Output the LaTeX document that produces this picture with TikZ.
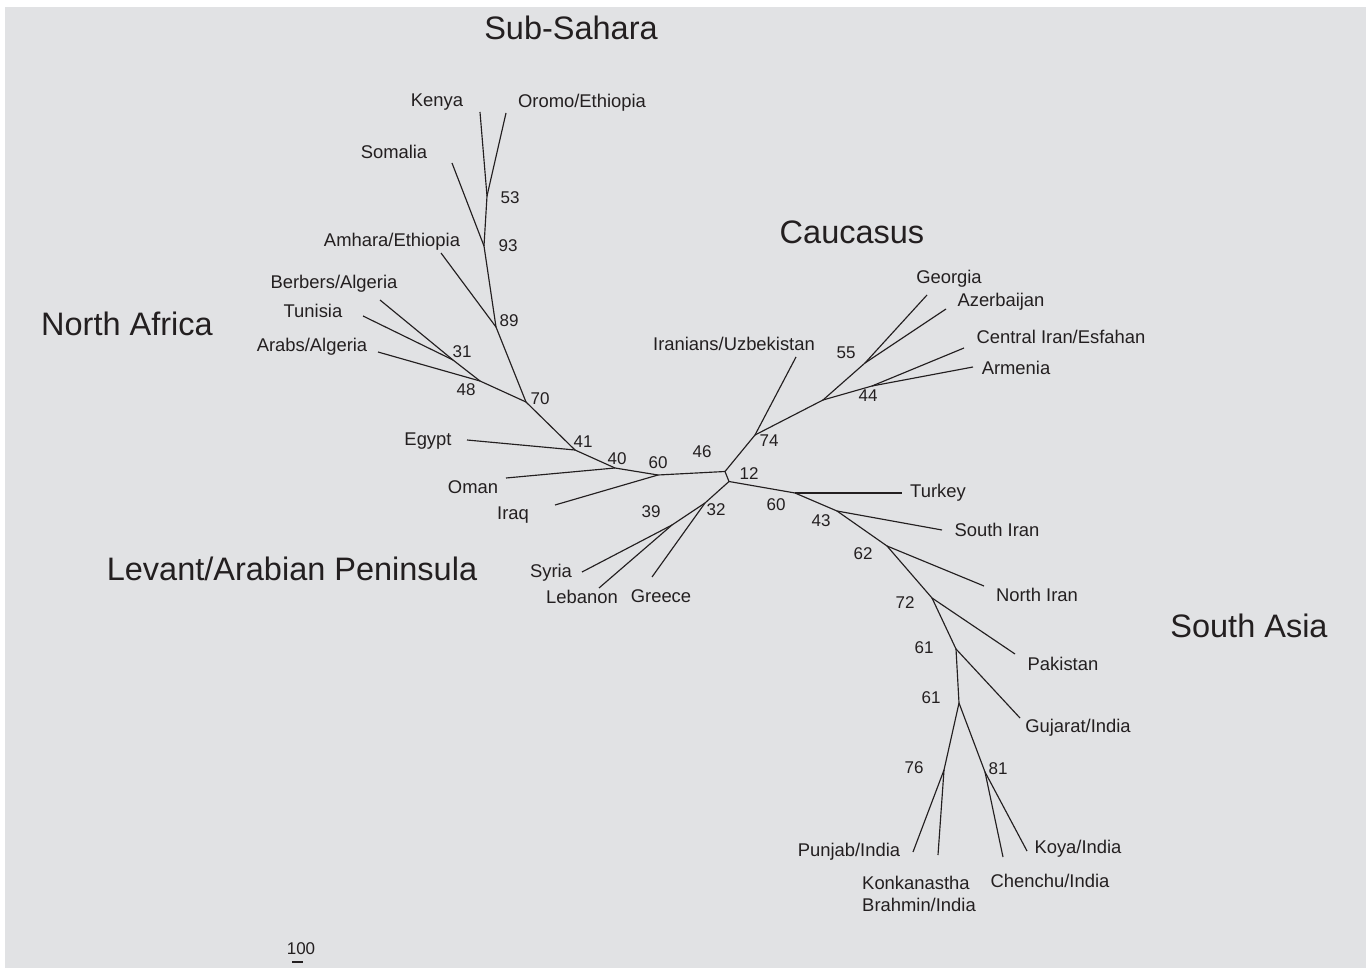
\documentclass[tikz,border=0pt]{standalone}
\usepackage{fontspec}
\setmainfont{Liberation Sans}
\definecolor{bg}{HTML}{E1E2E4}
\definecolor{ink}{HTML}{231F20}
\begin{document}
\begin{tikzpicture}[x=1pt,y=-1pt,
  br/.style={draw=ink,line width=1.15pt},
  lab/.style={text=ink,inner sep=0pt,font=\fontsize{18.4}{22}\selectfont},
  num/.style={text=ink,inner sep=0pt,font=\fontsize{17}{19}\selectfont},
  ttl/.style={text=ink,inner sep=0pt,font=\fontsize{32.5}{35}\selectfont}]
\useasboundingbox (0,0) rectangle (1369,968);
\fill[bg] (5,7) rectangle (1366,968);
% internal nodes
\coordinate (n53) at (487,196);
\coordinate (n93) at (484,246);
\coordinate (n89) at (496,327);
\coordinate (n31) at (453,360);
\coordinate (n48) at (480,381);
\coordinate (n70) at (526,402);
\coordinate (n41) at (575,450);
\coordinate (n40) at (615,468);
\coordinate (n60a) at (658,475);
\coordinate (cA) at (725,471.5);
\coordinate (cB) at (729,481.5);
\coordinate (n74) at (755,435);
\coordinate (nC) at (823,400);
\coordinate (n55) at (865,363);
\coordinate (n44) at (872,386);
\coordinate (n32) at (705,503);
\coordinate (n39) at (672,525);
\coordinate (n60b) at (795,493);
\coordinate (n43) at (837,511);
\coordinate (n62) at (887,546);
\coordinate (n72) at (932,598);
\coordinate (n61a) at (956,649);
\coordinate (n61b) at (959,703);
\coordinate (n76) at (944,770);
\coordinate (n81) at (985,772);
% tips
\coordinate (tKen) at (480,112);
\coordinate (tOro) at (506,113);
\coordinate (tSom) at (452,163);
\coordinate (tAmh) at (441,253);
\coordinate (tBer) at (380,300);
\coordinate (tTun) at (363,316);
\coordinate (tAra) at (378,352);
\coordinate (tEgy) at (467,440);
\coordinate (tOma) at (506,478);
\coordinate (tIrq) at (555,505);
\coordinate (tSyr) at (582,572);
\coordinate (tLeb) at (599,588);
\coordinate (tGre) at (652,577);
\coordinate (tUzb) at (796,357);
\coordinate (tGeo) at (927,295);
\coordinate (tAze) at (946,309);
\coordinate (tCIr) at (964,348);
\coordinate (tArm) at (973,367);
\coordinate (tTur) at (902,493);
\coordinate (tSIr) at (942,530);
\coordinate (tNIr) at (984,586);
\coordinate (tPak) at (1015,654);
\coordinate (tGuj) at (1020,718);
\coordinate (tPun) at (913,852);
\coordinate (tKon) at (938,855);
\coordinate (tChe) at (1003,857);
\coordinate (tKoy) at (1027,851);
% branches
\draw[br] (n53) -- (tKen);
\draw[br] (n53) -- (tOro);
\draw[br] (n93) -- (n53);
\draw[br] (n93) -- (tSom);
\draw[br] (n89) -- (n93);
\draw[br] (n89) -- (tAmh);
\draw[br] (n70) -- (n89);
\draw[br] (n31) -- (tBer);
\draw[br] (n31) -- (tTun);
\draw[br] (n48) -- (n31);
\draw[br] (n48) -- (tAra);
\draw[br] (n70) -- (n48);
\draw[br] (n41) -- (n70);
\draw[br] (n41) -- (tEgy);
\draw[br] (n40) -- (n41);
\draw[br] (n40) -- (tOma);
\draw[br] (n60a) -- (n40);
\draw[br] (n60a) -- (tIrq);
\draw[br] (cA) -- (n60a);
\draw[br] (cA) -- (cB);
\draw[br] (cA) -- (n74);
\draw[br] (n74) -- (tUzb);
\draw[br] (n74) -- (nC);
\draw[br] (nC) -- (n55);
\draw[br] (n55) -- (tGeo);
\draw[br] (n55) -- (tAze);
\draw[br] (nC) -- (n44);
\draw[br] (n44) -- (tCIr);
\draw[br] (n44) -- (tArm);
\draw[br] (cB) -- (n32);
\draw[br] (n32) -- (tGre);
\draw[br] (n32) -- (n39);
\draw[br] (n39) -- (tSyr);
\draw[br] (n39) -- (tLeb);
\draw[br] (cB) -- (n60b);
\draw[br] (n60b) -- (tTur);
\draw[br] (n60b) -- (n43);
\draw[br] (n43) -- (tSIr);
\draw[br] (n43) -- (n62);
\draw[br] (n62) -- (tNIr);
\draw[br] (n62) -- (n72);
\draw[br] (n72) -- (tPak);
\draw[br] (n72) -- (n61a);
\draw[br] (n61a) -- (tGuj);
\draw[br] (n61a) -- (n61b);
\draw[br] (n61b) -- (n76);
\draw[br] (n76) -- (tPun);
\draw[br] (n76) -- (tKon);
\draw[br] (n61b) -- (n81);
\draw[br] (n81) -- (tChe);
\draw[br] (n81) -- (tKoy);
% titles
\node[ttl] (tt1) at (571,28) {Sub-Sahara};
\node[ttl] (tt2) at (852,232) {Caucasus};
\node[ttl] (tt3) at (127,324) {North Africa};
\node[ttl] (tt4) at (292,569) {Levant/Arabian Peninsula};
\node[ttl] (tt5) at (1249,626) {South Asia};
% leaf labels
\node[lab] (lKen) at (437,102) {Kenya};
\node[lab] (lOro) at (582,103) {Oromo/Ethiopia};
\node[lab] (lSom) at (394,152) {Somalia};
\node[lab] (lAmh) at (392,242) {Amhara/Ethiopia};
\node[lab] (lBer) at (334,284) {Berbers/Algeria};
\node[lab] (lTun) at (313,311) {Tunisia};
\node[lab] (lAra) at (312,347) {Arabs/Algeria};
\node[lab] (lEgy) at (428,441) {Egypt};
\node[lab] (lOma) at (473,487) {Oman};
\node[lab] (lIrq) at (513,515) {Iraq};
\node[lab] (lSyr) at (551,573) {Syria};
\node[lab] (lLeb) at (582,597) {Lebanon};
\node[lab] (lGre) at (661,596) {Greece};
\node[lab] (lUzb) at (734,344) {Iranians/Uzbekistan};
\node[lab] (lGeo) at (949,279) {Georgia};
\node[lab] (lAze) at (1001,302) {Azerbaijan};
\node[lab] (lCIr) at (1061,337) {Central Iran/Esfahan};
\node[lab] (lArm) at (1016,368) {Armenia};
\node[lab] (lTur) at (938,493) {Turkey};
\node[lab] (lSIr) at (997,530) {South Iran};
\node[lab] (lNIr) at (1037,595) {North Iran};
\node[lab] (lPak) at (1063,664) {Pakistan};
\node[lab] (lGuj) at (1078,728) {Gujarat/India};
\node[lab] (lPun) at (849,852) {Punjab/India};
\node[lab,align=left] (lKon) at (919,894) {Konkanastha\\Brahmin/India};
\node[lab] (lChe) at (1050,881) {Chenchu/India};
\node[lab] (lKoy) at (1078,849) {Koya/India};
% bootstrap values
\node[num] (b53) at (510,198) {53};
\node[num] (b93) at (508,246) {93};
\node[num] (b89) at (509,321) {89};
\node[num] (b70) at (540,399) {70};
\node[num] (b31) at (462,352) {31};
\node[num] (b48) at (466,390) {48};
\node[num] (b41) at (583,442) {41};
\node[num] (b40) at (617,459) {40};
\node[num] (b60a) at (658,463) {60};
\node[num] (b46) at (702,452) {46};
\node[num] (b12) at (749,474) {12};
\node[num] (b74) at (769,441) {74};
\node[num] (b55) at (846,353) {55};
\node[num] (b44) at (868,396) {44};
\node[num] (b60b) at (776,505) {60};
\node[num] (b43) at (821,521) {43};
\node[num] (b32) at (716,510) {32};
\node[num] (b39) at (651,512) {39};
\node[num] (b62) at (863,554) {62};
\node[num] (b72) at (905,603) {72};
\node[num] (b61a) at (924,648) {61};
\node[num] (b61b) at (931,698) {61};
\node[num] (b76) at (914,768) {76};
\node[num] (b81) at (998,769) {81};
% scale bar
\node[num] (sc) at (301,949) {100};
\coordinate (sbL) at (292,962);
\coordinate (sbR) at (303,962);
\draw[br] (sbL) -- (sbR);
\end{tikzpicture}
\end{document}
